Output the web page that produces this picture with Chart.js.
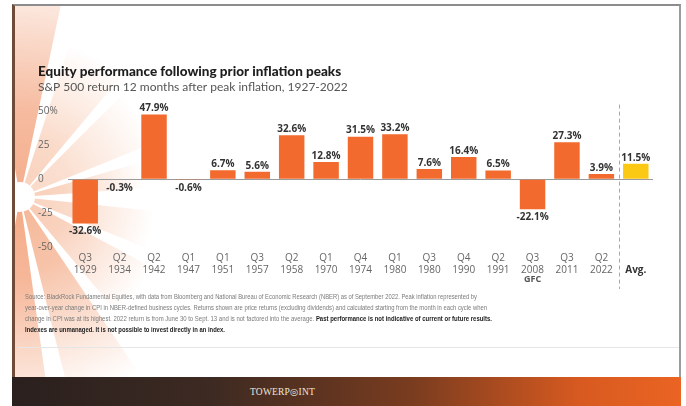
<!DOCTYPE html>
<html>
<head>
<meta charset="utf-8">
<script src="https://cdn.jsdelivr.net/npm/chart.js@4.4.0/dist/chart.umd.min.js"></script>
<style>
  html, body { margin: 0; padding: 0; background: #fff; }
  body { width: 686px; height: 406px; position: relative; overflow: hidden; font-family: "Open Sans", Lato, sans-serif; }
  #frame {
    position: absolute; left: 12px; top: 4px; width: 669px; height: 402px;
    box-sizing: border-box; border-top: 2px solid #8c8c8c; border-right: 2px solid #9c9c9c;
    border-left: 3px solid #6f4c3a; background: #fff;
  }
  #chartBox { position: absolute; left: 0; top: 0; width: 664px; height: 371px; }
  #notes {
    position: absolute; left: 10px; top: 285px; font-size: 8px; line-height: 11px;
    color: #7a7a7a; font-family: "Liberation Sans", Arial, sans-serif; white-space: nowrap;
  }
  #notes div { width: max-content; transform-origin: 0 50%; }
  #notes b { color: #222; }
  #rule { position: absolute; left: 3px; right: 0; top: 341px; height: 1px; background: #e6e6e6; }
  #footer {
    position: absolute; left: 12px; top: 377px; width: 669px; height: 29px;
    background: linear-gradient(90deg, #2a201e 0%, #3d2a22 30%, #7a3c1f 60%, #d85a20 85%, #ea6423 100%);
    color: #efe6dc; font-family: "Liberation Serif", "DejaVu Serif", serif; font-size: 9.5px;
    letter-spacing: 0.2px;
  }
  #footer span { position: absolute; left: 238px; top: 9px; }
</style>
</head>
<body>
<div id="frame">
  <div id="chartBox"><canvas id="inflationChart"></canvas></div>
  <div id="notes">
    <div data-w="452">Source: BlackRock Fundamental Equities, with data from Bloomberg and National Bureau of Economic Research (NBER) as of September 2022. Peak inflation represented by</div>
    <div data-w="462">year-over-year change in CPI in NBER-defined business cycles. Returns shown are price returns (excluding dividends) and calculated starting from the month in each cycle when</div>
    <div data-w="467">change in CPI was at its highest. 2022 return is from June 30 to Sept. 13 and is not factored into the average. <b>Past performance is not indicative of current or future results.</b></div>
    <div data-w="200"><b>Indexes are unmanaged. It is not possible to invest directly in an index.</b></div>
  </div>
  <div id="rule"></div>
</div>
<div id="footer"><span>TOWERP◎INT</span></div>

<script>
// S&P 500 return 12 months after each inflation peak
const categories = [
  ['Q3', '1929'], ['Q2', '1934'], ['Q2', '1942'], ['Q1', '1947'], ['Q1', '1951'],
  ['Q3', '1957'], ['Q2', '1958'], ['Q1', '1970'], ['Q4', '1974'], ['Q1', '1980'],
  ['Q3', '1980'], ['Q4', '1990'], ['Q2', '1991'], ['Q3', '2008'], ['Q3', '2011'],
  ['Q2', '2022'], ['', 'Avg.']
];
const returns = [-32.6, -0.3, 47.9, -0.6, 6.7, 5.6, 32.6, 12.8, 31.5, 33.2, 7.6, 16.4, 6.5, -22.1, 27.3, 3.9, 11.5];
const yTicks = [-50, -25, 0, 25, 50];
const subNotes = ['', '', '', '', '', '', '', '', '', '', '', '', '', 'GFC', '', '', ''];

const ORANGE = '#f26a2d';
const YELLOW = '#fbc814';
const avgIndex = categories.length - 1;

// squeeze each footnote line to its width
document.querySelectorAll('#notes div').forEach(el => {
  const w = el.getBoundingClientRect().width;
  el.style.transform = 'scaleX(' + (el.dataset.w / w) + ')';
});

// pale sun rays behind the left side of the chart
const sunburst = {
  id: 'sunburst',
  beforeDraw(chart) {
    const ctx = chart.ctx;
    const cx = 5, cy = 191;
    const rays = [
      [-100, -78, 'rgba(243,165,128,', 250],
      [-72, -50, 'rgba(248,204,180,', 160],
      [-45, -22, 'rgba(249,212,192,', 145],
      [-16, -4, 'rgba(247,200,174,', 125],
      [6, 22, 'rgba(248,205,182,', 135],
      [28, 50, 'rgba(247,196,170,', 150],
      [56, 76, 'rgba(244,175,140,', 210],
      [82, 100, 'rgba(243,160,120,', 240]
    ];
    ctx.save();
    rays.forEach(([a0, a1, col, r]) => {
      const g = ctx.createRadialGradient(cx, cy, 0, cx, cy, r);
      g.addColorStop(0, col + '0.9)');
      g.addColorStop(0.35, col + '0.75)');
      g.addColorStop(1, col + '0)');
      ctx.fillStyle = g;
      ctx.beginPath();
      ctx.moveTo(cx, cy);
      ctx.arc(cx, cy, r, a0 * Math.PI / 180, a1 * Math.PI / 180);
      ctx.closePath();
      ctx.fill();
    });
    ctx.fillStyle = '#fff';
    ctx.beginPath();
    ctx.arc(cx, cy, 15, 0, Math.PI * 2);
    ctx.fill();
    ctx.restore();
  }
};

// value labels, dashed divider before the average, and the GFC note
const annotations = {
  id: 'annotations',
  afterDatasetsDraw(chart) {
    const ctx = chart.ctx;
    const meta = chart.getDatasetMeta(0);
    const xs = chart.scales.x;
    ctx.save();
    ctx.font = 'bold 10px "Open Sans", sans-serif';
    ctx.fillStyle = '#333';
    ctx.textAlign = 'center';
    meta.data.forEach((bar, i) => {
      const v = returns[i];
      if (v >= 0) {
        ctx.textBaseline = 'bottom';
        ctx.fillText(v.toFixed(1) + '%', bar.x, bar.y - 1);
      } else {
        ctx.textBaseline = 'top';
        ctx.fillText(v.toFixed(1) + '%', bar.x, bar.y + 3);
      }
    });

    const xd = Math.round((xs.getPixelForValue(avgIndex - 1) + xs.getPixelForValue(avgIndex)) / 2) + 0.5;
    ctx.strokeStyle = '#a8a8a8';
    ctx.lineWidth = 1;
    ctx.setLineDash([4, 3]);
    ctx.beginPath();
    ctx.moveTo(xd, chart.chartArea.top - 7);
    ctx.lineTo(xd, xs.bottom + 8);
    ctx.stroke();
    ctx.setLineDash([]);

    ctx.font = 'bold 9px "Open Sans", sans-serif';
    ctx.fillStyle = '#555';
    ctx.textBaseline = 'middle';
    subNotes.forEach((t, i) => {
      if (t) ctx.fillText(t, xs.getPixelForValue(i), xs.top + 5 + 24 + 3);
    });
    ctx.restore();
  }
};

new Chart(document.getElementById('inflationChart'), {
  type: 'bar',
  data: {
    labels: categories,
    datasets: [{
      data: returns,
      backgroundColor: returns.map((v, i) => i === avgIndex ? YELLOW : ORANGE),
      borderWidth: 0,
      categoryPercentage: 1,
      barPercentage: 0.74
    }]
  },
  options: {
    responsive: true,
    maintainAspectRatio: false,
    animation: false,
    layout: { padding: { left: 23, right: 26, top: 58, bottom: 96 } },
    plugins: {
      legend: { display: false },
      tooltip: { enabled: false },
      title: {
        display: true,
        text: 'Equity performance following prior inflation peaks',
        align: 'start',
        color: '#1e1e1e',
        font: { family: 'Lato', size: 13.5, weight: 900 },
        padding: { top: 0, bottom: 0 }
      },
      subtitle: {
        display: true,
        text: 'S&P 500 return 12 months after peak inflation, 1927-2022',
        align: 'start',
        color: '#555',
        font: { family: 'Lato', size: 12, weight: 'normal' },
        padding: { top: 0, bottom: 17 }
      }
    },
    scales: {
      x: {
        grid: { display: false, drawTicks: false },
        border: { display: false },
        ticks: {
          padding: 5,
          maxRotation: 0,
          autoSkip: false,
          color: ctx => ctx.index === avgIndex ? '#333' : '#666',
          font: ctx => ({ family: '"Open Sans", sans-serif', size: 10, weight: ctx.index === avgIndex ? 'bold' : 'normal' })
        }
      },
      y: {
        min: -50,
        max: 50,
        afterBuildTicks: scale => { scale.ticks = yTicks.map(v => ({ value: v })); },
        afterFit: scale => { scale.width = 30; },
        grid: {
          drawTicks: false,
          color: ctx => ctx.tick && ctx.tick.value === 0 ? '#9a9a9a' : 'rgba(0,0,0,0)'
        },
        border: { display: false },
        ticks: {
          crossAlign: 'far',
          padding: 4,
          color: '#666',
          font: { family: '"Open Sans", sans-serif', size: 10 },
          callback: v => v === 50 ? '50%' : v
        }
      }
    }
  },
  plugins: [sunburst, annotations]
});
</script>
</body>
</html>
